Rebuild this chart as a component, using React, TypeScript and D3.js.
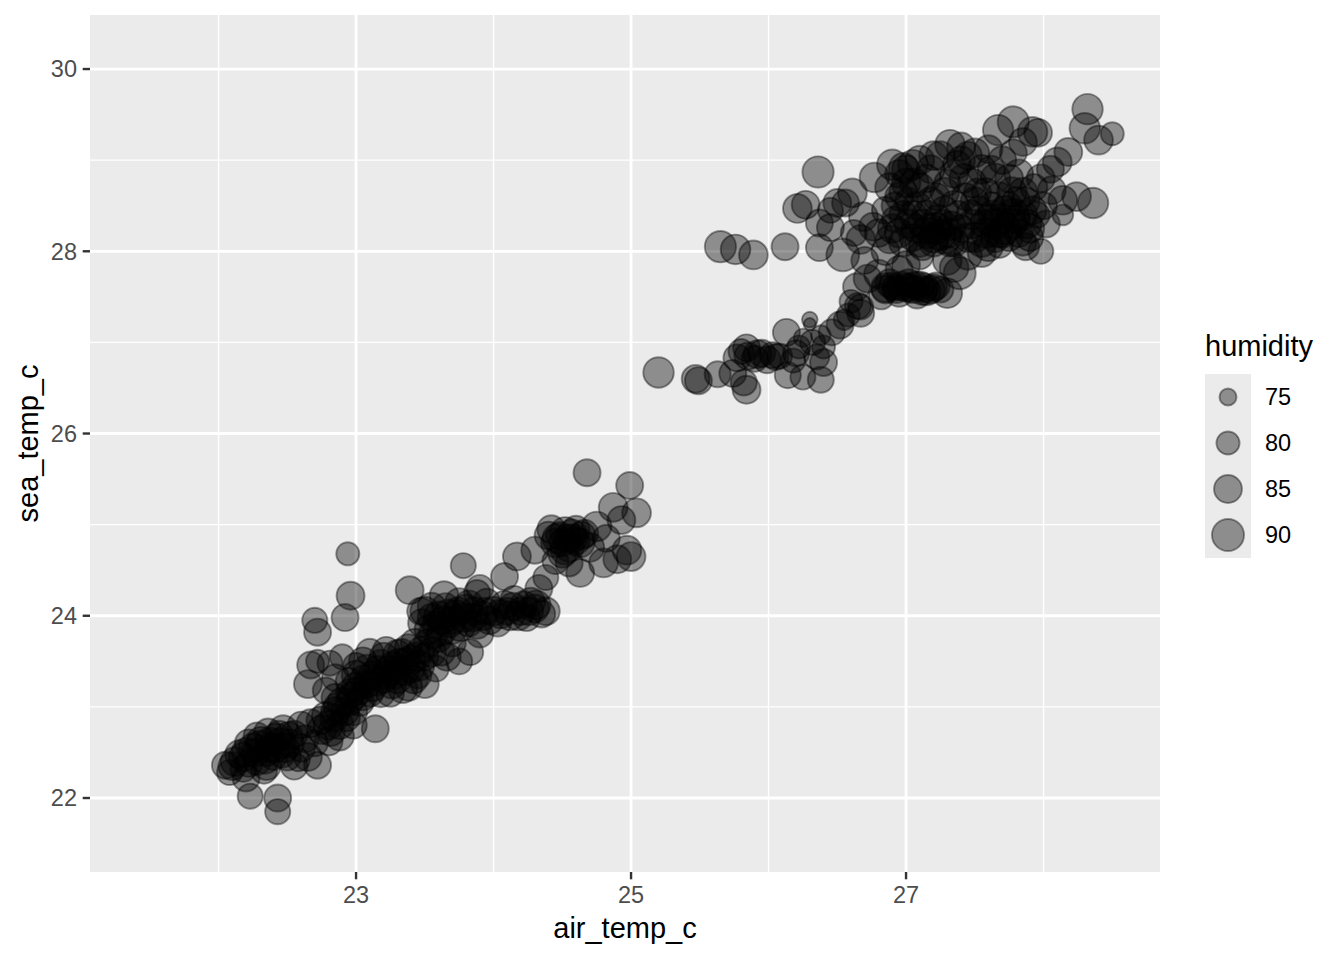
import * as d3 from "d3";

// [air_temp_c, sea_temp_c, humidity]
const lowerBand: [number, number, number][] = [
  [22.05, 22.36, 84], [22.08, 22.28, 82], [22.12, 22.40, 86], [22.15, 22.48, 85],
  [22.18, 22.32, 83], [22.20, 22.22, 84], [22.23, 22.02, 82], [22.25, 22.55, 86],
  [22.28, 22.40, 84], [22.31, 22.62, 87], [22.33, 22.30, 83], [22.36, 22.72, 85],
  [22.38, 22.55, 86], [22.40, 22.45, 83], [22.42, 22.66, 86], [22.43, 22.00, 84],
  [22.43, 21.85, 82], [22.45, 22.60, 88], [22.47, 22.75, 86], [22.50, 22.45, 84],
  [22.52, 22.60, 85], [22.55, 22.70, 84], [22.58, 22.42, 80], [22.60, 22.55, 85],
  [22.63, 22.65, 84], [22.67, 22.82, 85], [22.70, 22.60, 83], [22.72, 22.36, 84],
  [22.75, 22.75, 86], [22.78, 22.90, 85], [22.82, 22.72, 84], [22.85, 22.95, 86],
  [22.88, 22.80, 85], [22.90, 23.05, 87], [22.93, 22.88, 84], [22.96, 23.15, 86],
  [22.98, 22.95, 85], [23.00, 23.22, 86], [23.03, 23.05, 84], [23.06, 23.30, 86],
  [23.08, 23.42, 85], [23.10, 23.15, 84], [23.14, 22.76, 84], [23.15, 23.28, 86],
  [23.18, 23.48, 84], [23.20, 23.55, 85], [23.22, 23.35, 85], [23.25, 23.15, 84],
  [23.27, 23.45, 86], [23.30, 23.30, 85], [23.33, 23.60, 84], [23.35, 23.40, 87],
  [23.38, 23.22, 85], [23.40, 23.52, 86], [23.43, 23.70, 86], [23.45, 23.35, 84],
  [23.48, 23.92, 85], [23.50, 23.55, 84], [23.53, 23.85, 86], [23.55, 23.98, 85],
  [23.58, 23.42, 83], [23.60, 24.00, 86], [23.62, 23.82, 85], [23.65, 24.10, 84],
  [23.68, 23.92, 86], [23.70, 23.70, 84], [23.73, 24.02, 85], [23.76, 23.88, 86],
  [23.78, 24.55, 82], [23.80, 24.08, 85], [23.83, 23.60, 83], [23.85, 23.98, 85],
  [23.88, 24.25, 83], [23.90, 23.80, 84], [23.92, 24.00, 86],
  [22.70, 23.95, 82], [22.72, 23.82, 84], [22.92, 23.98, 84], [22.96, 24.22, 85],
  [22.94, 24.68, 80], [22.67, 23.46, 84], [22.72, 23.50, 80], [22.81, 23.48, 82],
  [22.65, 23.25, 85], [22.85, 23.32, 84], [22.78, 23.18, 83], [22.90, 23.55, 82],
  [23.00, 23.45, 83], [23.39, 24.28, 85], [23.47, 24.05, 84], [23.64, 24.22, 86],
  [23.90, 24.30, 84], [23.62, 23.60, 84], [23.75, 23.50, 83],
  [24.00, 24.05, 86], [24.03, 23.92, 84], [24.08, 24.12, 85], [24.12, 24.00, 86],
  [24.15, 24.18, 84], [24.20, 24.05, 85], [24.24, 23.98, 84], [24.27, 24.15, 86],
  [24.30, 24.08, 85], [24.33, 24.30, 84], [24.38, 24.05, 85], [24.08, 24.43, 84],
  [24.17, 24.65, 85], [24.30, 24.72, 84], [24.42, 24.95, 85], [24.45, 24.80, 86],
  [24.48, 24.88, 84], [24.52, 24.92, 87], [24.55, 24.75, 86], [24.58, 24.85, 85],
  [24.60, 24.95, 84], [24.63, 24.80, 86], [24.66, 24.90, 85], [24.70, 24.75, 86],
  [24.63, 24.47, 85], [24.55, 24.58, 84], [24.80, 24.58, 86], [24.97, 24.72, 86],
  [24.87, 25.19, 86], [25.04, 25.13, 86], [24.99, 25.43, 84], [24.68, 25.57, 84],
  [24.93, 25.05, 85], [25.00, 24.65, 86], [24.45, 24.60, 83], [24.38, 24.42, 82],
  [24.50, 24.68, 85], [24.75, 24.98, 87], [24.82, 24.85, 84], [24.90, 24.62, 85],
];

// densest part of the lower band
const lowerCore: [number, number, number][] = [
  [22.10, 22.35, 85], [22.18, 22.45, 86], [22.22, 22.38, 84], [22.27, 22.50, 85],
  [22.30, 22.58, 86], [22.35, 22.50, 84], [22.37, 22.62, 85], [22.41, 22.55, 86],
  [22.44, 22.70, 84], [22.48, 22.55, 86], [22.51, 22.68, 85], [22.46, 22.48, 84],
  [22.34, 22.42, 85], [22.22, 22.60, 85], [22.28, 22.68, 84],
  [22.74, 22.85, 85], [22.80, 22.80, 86], [22.84, 22.88, 85], [22.87, 23.00, 86],
  [22.92, 22.95, 85], [22.95, 23.05, 84], [22.98, 23.12, 86], [23.02, 23.18, 85],
  [23.05, 23.12, 86], [23.08, 23.25, 84], [23.12, 23.35, 85], [23.16, 23.40, 86],
  [23.20, 23.30, 84], [23.24, 23.40, 86], [23.28, 23.35, 85], [23.31, 23.48, 86],
  [23.36, 23.50, 84], [23.40, 23.42, 85], [23.44, 23.55, 86], [23.47, 23.62, 84],
  [23.52, 23.70, 85], [23.56, 23.80, 86], [23.58, 23.90, 84], [23.63, 23.95, 85],
  [23.67, 24.02, 86], [23.71, 23.95, 84], [23.74, 24.05, 85], [23.78, 23.98, 86],
  [23.82, 23.92, 84], [23.86, 24.05, 85], [23.94, 24.05, 84], [23.97, 23.95, 85],
  [24.05, 24.02, 86], [24.10, 24.05, 84], [24.14, 24.10, 85], [24.18, 24.00, 86],
  [24.22, 24.12, 84], [24.26, 24.05, 85], [24.31, 24.12, 86], [24.35, 24.02, 84],
  [24.40, 24.88, 85], [24.46, 24.85, 86], [24.50, 24.80, 84], [24.54, 24.85, 85],
  [24.57, 24.90, 86], [24.60, 24.82, 84], [24.64, 24.88, 85], [24.52, 24.72, 86],
];

// points that widen the lower band around 23-24 degrees
const lowerSpread: [number, number, number][] = [
  [23.00, 23.35, 86], [23.05, 23.50, 85], [23.10, 23.60, 84], [23.12, 23.22, 86],
  [23.18, 23.15, 85], [23.22, 23.62, 84], [23.26, 23.25, 86], [23.30, 23.58, 85],
  [23.34, 23.20, 86], [23.38, 23.65, 84], [23.42, 23.30, 85], [23.46, 23.45, 87],
  [23.50, 23.25, 85], [23.55, 23.60, 86], [23.60, 23.75, 84], [23.66, 23.55, 85],
  [23.70, 23.85, 86], [23.75, 24.15, 85], [23.82, 24.12, 86], [23.88, 23.90, 85],
  [23.95, 24.15, 84], [23.55, 24.10, 85], [23.50, 24.05, 86], [22.85, 23.10, 85],
  [22.95, 23.28, 84], [22.80, 22.62, 85], [22.88, 22.68, 86], [22.98, 22.80, 84],
  [22.65, 22.45, 85], [22.55, 22.35, 84], [22.35, 22.35, 85], [22.20, 22.50, 86],
  [22.60, 22.80, 84],
];

const middleBand: [number, number, number][] = [
  [25.20, 26.67, 88], [25.47, 26.60, 85], [25.49, 26.58, 84], [25.63, 26.65, 83],
  [25.77, 26.83, 84], [25.74, 26.66, 84], [25.84, 26.48, 85], [25.82, 26.56, 83],
  [25.84, 26.94, 84], [26.03, 26.86, 83], [25.99, 26.81, 84], [26.13, 27.11, 84],
  [26.14, 26.64, 83], [26.25, 26.62, 82], [26.30, 27.25, 74], [26.35, 26.84, 82],
  [26.38, 26.59, 83], [26.40, 26.78, 84], [26.32, 27.00, 82], [26.46, 27.11, 83],
  [26.52, 27.19, 84], [26.67, 27.32, 84], [26.65, 27.40, 83], [25.90, 26.82, 83],
  [25.95, 26.88, 84], [26.08, 26.85, 82], [26.20, 26.88, 83], [26.22, 26.95, 80],
  [26.18, 26.80, 81], [26.40, 26.95, 80], [25.80, 26.90, 82], [26.55, 27.25, 78],
  [26.58, 27.30, 80], [26.30, 27.20, 72], [26.25, 27.05, 76], [26.38, 27.08, 77],
  [25.85, 26.85, 84], [25.92, 26.87, 85], [26.05, 26.84, 83],
];

const upperBand: [number, number, number][] = [
  [25.65, 28.05, 89], [25.76, 28.02, 87], [25.89, 27.96, 86], [26.12, 28.05, 84],
  [26.21, 28.47, 86], [26.27, 28.51, 85], [26.36, 28.87, 89], [26.37, 28.31, 84],
  [26.45, 28.26, 84], [26.37, 28.04, 84], [26.54, 27.96, 91], [26.50, 28.53, 85],
  [26.56, 28.53, 84], [26.61, 28.64, 86], [26.45, 28.45, 82], [26.62, 28.20, 83],
  [26.67, 28.13, 86], [26.69, 28.38, 86], [26.70, 27.90, 84], [26.76, 28.27, 85],
  [26.77, 28.81, 87], [26.88, 28.13, 85], [26.90, 28.95, 88],
  [26.60, 27.45, 80], [26.64, 27.61, 84], [26.67, 27.39, 82], [26.72, 27.70, 85],
  [26.80, 27.75, 86], [26.82, 27.50, 82], [26.85, 27.58, 85], [26.90, 27.62, 84],
  [26.92, 27.60, 83], [26.95, 27.55, 86], [26.95, 27.80, 84], [27.00, 27.60, 85],
  [27.00, 27.85, 85], [27.02, 27.65, 85], [27.05, 27.58, 84], [27.08, 27.52, 84],
  [27.10, 27.62, 86], [27.10, 27.95, 84], [27.12, 27.57, 86], [27.15, 27.56, 85],
  [27.20, 27.60, 84], [27.25, 27.58, 83], [27.30, 27.54, 87], [27.30, 27.90, 86],
  [27.35, 27.82, 86], [27.39, 27.76, 90], [27.45, 27.95, 85], [27.55, 27.98, 85],
  [27.68, 28.07, 83], [27.87, 28.05, 84],
  [26.80, 28.20, 85], [26.85, 28.45, 84], [26.88, 28.70, 86], [26.92, 28.35, 83],
  [26.95, 28.85, 85], [26.98, 28.10, 86], [27.02, 28.55, 84], [27.05, 28.95, 87],
  [27.07, 28.25, 85], [27.10, 28.70, 86], [27.12, 28.05, 84], [27.15, 28.40, 86],
  [27.18, 28.90, 85], [27.20, 28.15, 87], [27.22, 28.60, 84], [27.25, 29.05, 86],
  [27.27, 28.30, 85], [27.30, 28.75, 83], [27.32, 28.10, 86], [27.35, 28.50, 87],
  [27.37, 28.95, 85], [27.40, 28.25, 84], [27.42, 28.80, 86], [27.45, 29.05, 85],
  [27.47, 28.40, 86], [27.50, 28.15, 87], [27.52, 28.65, 84], [27.55, 28.90, 86],
  [27.57, 28.30, 85], [27.60, 28.05, 86], [27.62, 28.50, 84], [27.65, 28.80, 87],
  [27.67, 28.20, 86], [27.70, 29.00, 85], [27.72, 28.45, 86], [27.75, 28.15, 84],
  [27.77, 28.65, 87], [27.80, 28.35, 85], [27.82, 28.85, 86], [27.85, 28.10, 84],
  [27.87, 28.55, 85], [27.90, 28.25, 86], [27.93, 28.70, 84], [27.95, 28.40, 83],
  [27.98, 28.00, 82],
  [27.15, 28.20, 88], [27.22, 28.25, 89], [27.28, 28.15, 90], [27.65, 28.30, 88],
  [27.72, 28.25, 89], [27.78, 28.40, 90], [27.60, 28.35, 87], [27.20, 28.10, 86],
  [26.98, 28.92, 86], [27.00, 28.90, 85], [27.10, 29.00, 86], [27.32, 29.17, 87],
  [27.40, 29.15, 85], [27.50, 29.08, 86], [27.60, 29.12, 85], [27.67, 29.33, 88],
  [27.78, 29.42, 89], [27.92, 29.31, 87], [27.96, 29.30, 85], [27.78, 29.08, 84],
  [27.85, 29.20, 85],
  [28.06, 28.67, 85], [28.14, 28.56, 86], [28.24, 28.60, 86], [28.36, 28.53, 88],
  [28.14, 28.40, 78], [28.10, 28.98, 86], [28.18, 29.09, 85], [28.05, 28.90, 84],
  [28.32, 29.56, 88], [28.30, 29.35, 88], [28.40, 29.22, 86], [28.50, 29.29, 80],
  [27.98, 28.80, 85], [28.00, 28.50, 84], [28.02, 28.30, 84],
];

// densest part of the upper cloud
const upperCore: [number, number, number][] = [
  [26.85, 27.60, 86], [26.88, 27.65, 85], [26.93, 27.58, 84], [26.97, 27.62, 86],
  [27.03, 27.60, 85], [27.07, 27.63, 84], [27.13, 27.60, 86], [27.18, 27.58, 85],
  [27.22, 27.62, 84],
  [26.95, 28.20, 86], [26.98, 28.40, 85], [27.02, 28.30, 86], [27.05, 28.15, 84],
  [27.08, 28.50, 85], [27.12, 28.30, 86], [27.17, 28.25, 87], [27.18, 28.55, 85],
  [27.23, 28.35, 86], [27.25, 28.18, 88], [27.28, 28.45, 85], [27.33, 28.28, 86],
  [27.38, 28.40, 85], [27.43, 28.60, 84], [27.48, 28.30, 86], [27.53, 28.45, 85],
  [27.58, 28.20, 87], [27.63, 28.40, 86], [27.68, 28.35, 88], [27.70, 28.20, 86],
  [27.74, 28.50, 85], [27.77, 28.30, 87], [27.82, 28.20, 85], [27.85, 28.40, 86],
  [27.90, 28.15, 84], [27.06, 28.75, 86], [27.15, 28.80, 85], [27.28, 28.65, 86],
  [27.35, 28.85, 85], [27.48, 28.75, 86], [27.58, 28.65, 85], [27.68, 28.60, 86],
  [27.75, 28.80, 85], [27.85, 28.65, 86], [27.62, 28.90, 84], [27.40, 29.00, 85],
  [27.20, 29.05, 86], [26.98, 28.65, 85], [26.92, 28.50, 84],
  [26.85, 28.00, 85], [26.90, 28.25, 86], [26.95, 28.60, 85], [27.00, 28.75, 86],
  [27.05, 28.40, 85], [27.10, 28.10, 87], [27.45, 28.15, 86], [27.50, 28.55, 85],
  [27.55, 28.10, 87], [27.65, 28.15, 86], [27.80, 28.55, 85], [27.88, 28.30, 86],
  [27.92, 28.45, 85], [27.35, 28.10, 86], [27.30, 28.20, 87],
];

const xTicks = [23, 25, 27];
const xMinor = [22, 24, 26, 28];
const yTicks = [22, 24, 26, 28, 30];
const yMinor = [23, 25, 27, 29];
const legendBreaks = [75, 80, 85, 90];

const font = "'Liberation Sans', Arial, Helvetica, sans-serif";

export default function App() {
  const width = 1344;
  const height = 960;
  const panel = { left: 90, right: 1160, top: 15, bottom: 872 };

  const points = [
    ...lowerBand,
    ...lowerCore,
    ...lowerSpread,
    ...middleBand,
    ...upperBand,
    ...upperCore,
  ];

  const x = d3.scaleLinear().domain([21.065, 28.847]).range([panel.left, panel.right]);
  const y = d3.scaleLinear().domain([21.188, 30.593]).range([panel.bottom, panel.top]);
  // point area grows linearly with humidity (ggplot scale_size)
  const area = d3.scaleLinear().domain([75, 90]).range([90, 289]);
  const radius = (h: number) => Math.max(2, Math.sqrt(Math.max(4, area(h))) - 0.95);

  const tickLen = 7.3;
  const keyTop = 374;
  const keyH = 46;

  return (
    <svg width={width} height={height} style={{ position: "absolute", left: 0, top: 0 }}>
      <rect width={width} height={height} fill="white" />
      <rect
        x={panel.left}
        y={panel.top}
        width={panel.right - panel.left}
        height={panel.bottom - panel.top}
        fill="#ebebeb"
      />
      {xMinor.map((v) => (
        <line key={"xm" + v} x1={x(v)} x2={x(v)} y1={panel.top} y2={panel.bottom} stroke="white" strokeWidth={1.4} />
      ))}
      {yMinor.map((v) => (
        <line key={"ym" + v} x1={panel.left} x2={panel.right} y1={y(v)} y2={y(v)} stroke="white" strokeWidth={1.4} />
      ))}
      {xTicks.map((v) => (
        <line key={"xg" + v} x1={x(v)} x2={x(v)} y1={panel.top} y2={panel.bottom} stroke="white" strokeWidth={2.8} />
      ))}
      {yTicks.map((v) => (
        <line key={"yg" + v} x1={panel.left} x2={panel.right} y1={y(v)} y2={y(v)} stroke="white" strokeWidth={2.8} />
      ))}

      <g>
        {points.map(([a, s, h], i) => (
          <circle
            key={i}
            cx={x(a)}
            cy={y(s)}
            r={radius(h)}
            fill="black"
            fillOpacity={0.4}
            stroke="black"
            strokeOpacity={0.4}
            strokeWidth={1.9}
          />
        ))}
      </g>

      {xTicks.map((v) => (
        <g key={"xt" + v}>
          <line x1={x(v)} x2={x(v)} y1={panel.bottom} y2={panel.bottom + tickLen} stroke="#333333" strokeWidth={2.4} />
          <text x={x(v)} y={903} textAnchor="middle" fontFamily={font} fontSize={23.5} fill="#4d4d4d">
            {v}
          </text>
        </g>
      ))}
      {yTicks.map((v) => (
        <g key={"yt" + v}>
          <line x1={panel.left - tickLen} x2={panel.left} y1={y(v)} y2={y(v)} stroke="#333333" strokeWidth={2.4} />
          <text x={77} y={y(v) + 8.4} textAnchor="end" fontFamily={font} fontSize={23.5} fill="#4d4d4d">
            {v}
          </text>
        </g>
      ))}

      <text x={(panel.left + panel.right) / 2} y={938} textAnchor="middle" fontFamily={font} fontSize={29} fill="black">
        air_temp_c
      </text>
      <text
        transform={`translate(38, ${(panel.top + panel.bottom) / 2}) rotate(-90)`}
        textAnchor="middle"
        fontFamily={font}
        fontSize={29}
        fill="black"
      >
        sea_temp_c
      </text>

      {/* legend */}
      <text x={1205} y={356} fontFamily={font} fontSize={29} fill="black">
        humidity
      </text>
      <rect x={1205} y={keyTop} width={46} height={keyH * legendBreaks.length} fill="#ebebeb" />
      {legendBreaks.map((h, i) => {
        const cy = keyTop + keyH * i + keyH / 2;
        return (
          <g key={"lg" + h}>
            <circle
              cx={1228}
              cy={cy}
              r={radius(h)}
              fill="black"
              fillOpacity={0.4}
              stroke="black"
              strokeOpacity={0.4}
              strokeWidth={1.9}
            />
            <text x={1265} y={cy + 8.4} fontFamily={font} fontSize={23.5} fill="black">
              {h}
            </text>
          </g>
        );
      })}
    </svg>
  );
}
